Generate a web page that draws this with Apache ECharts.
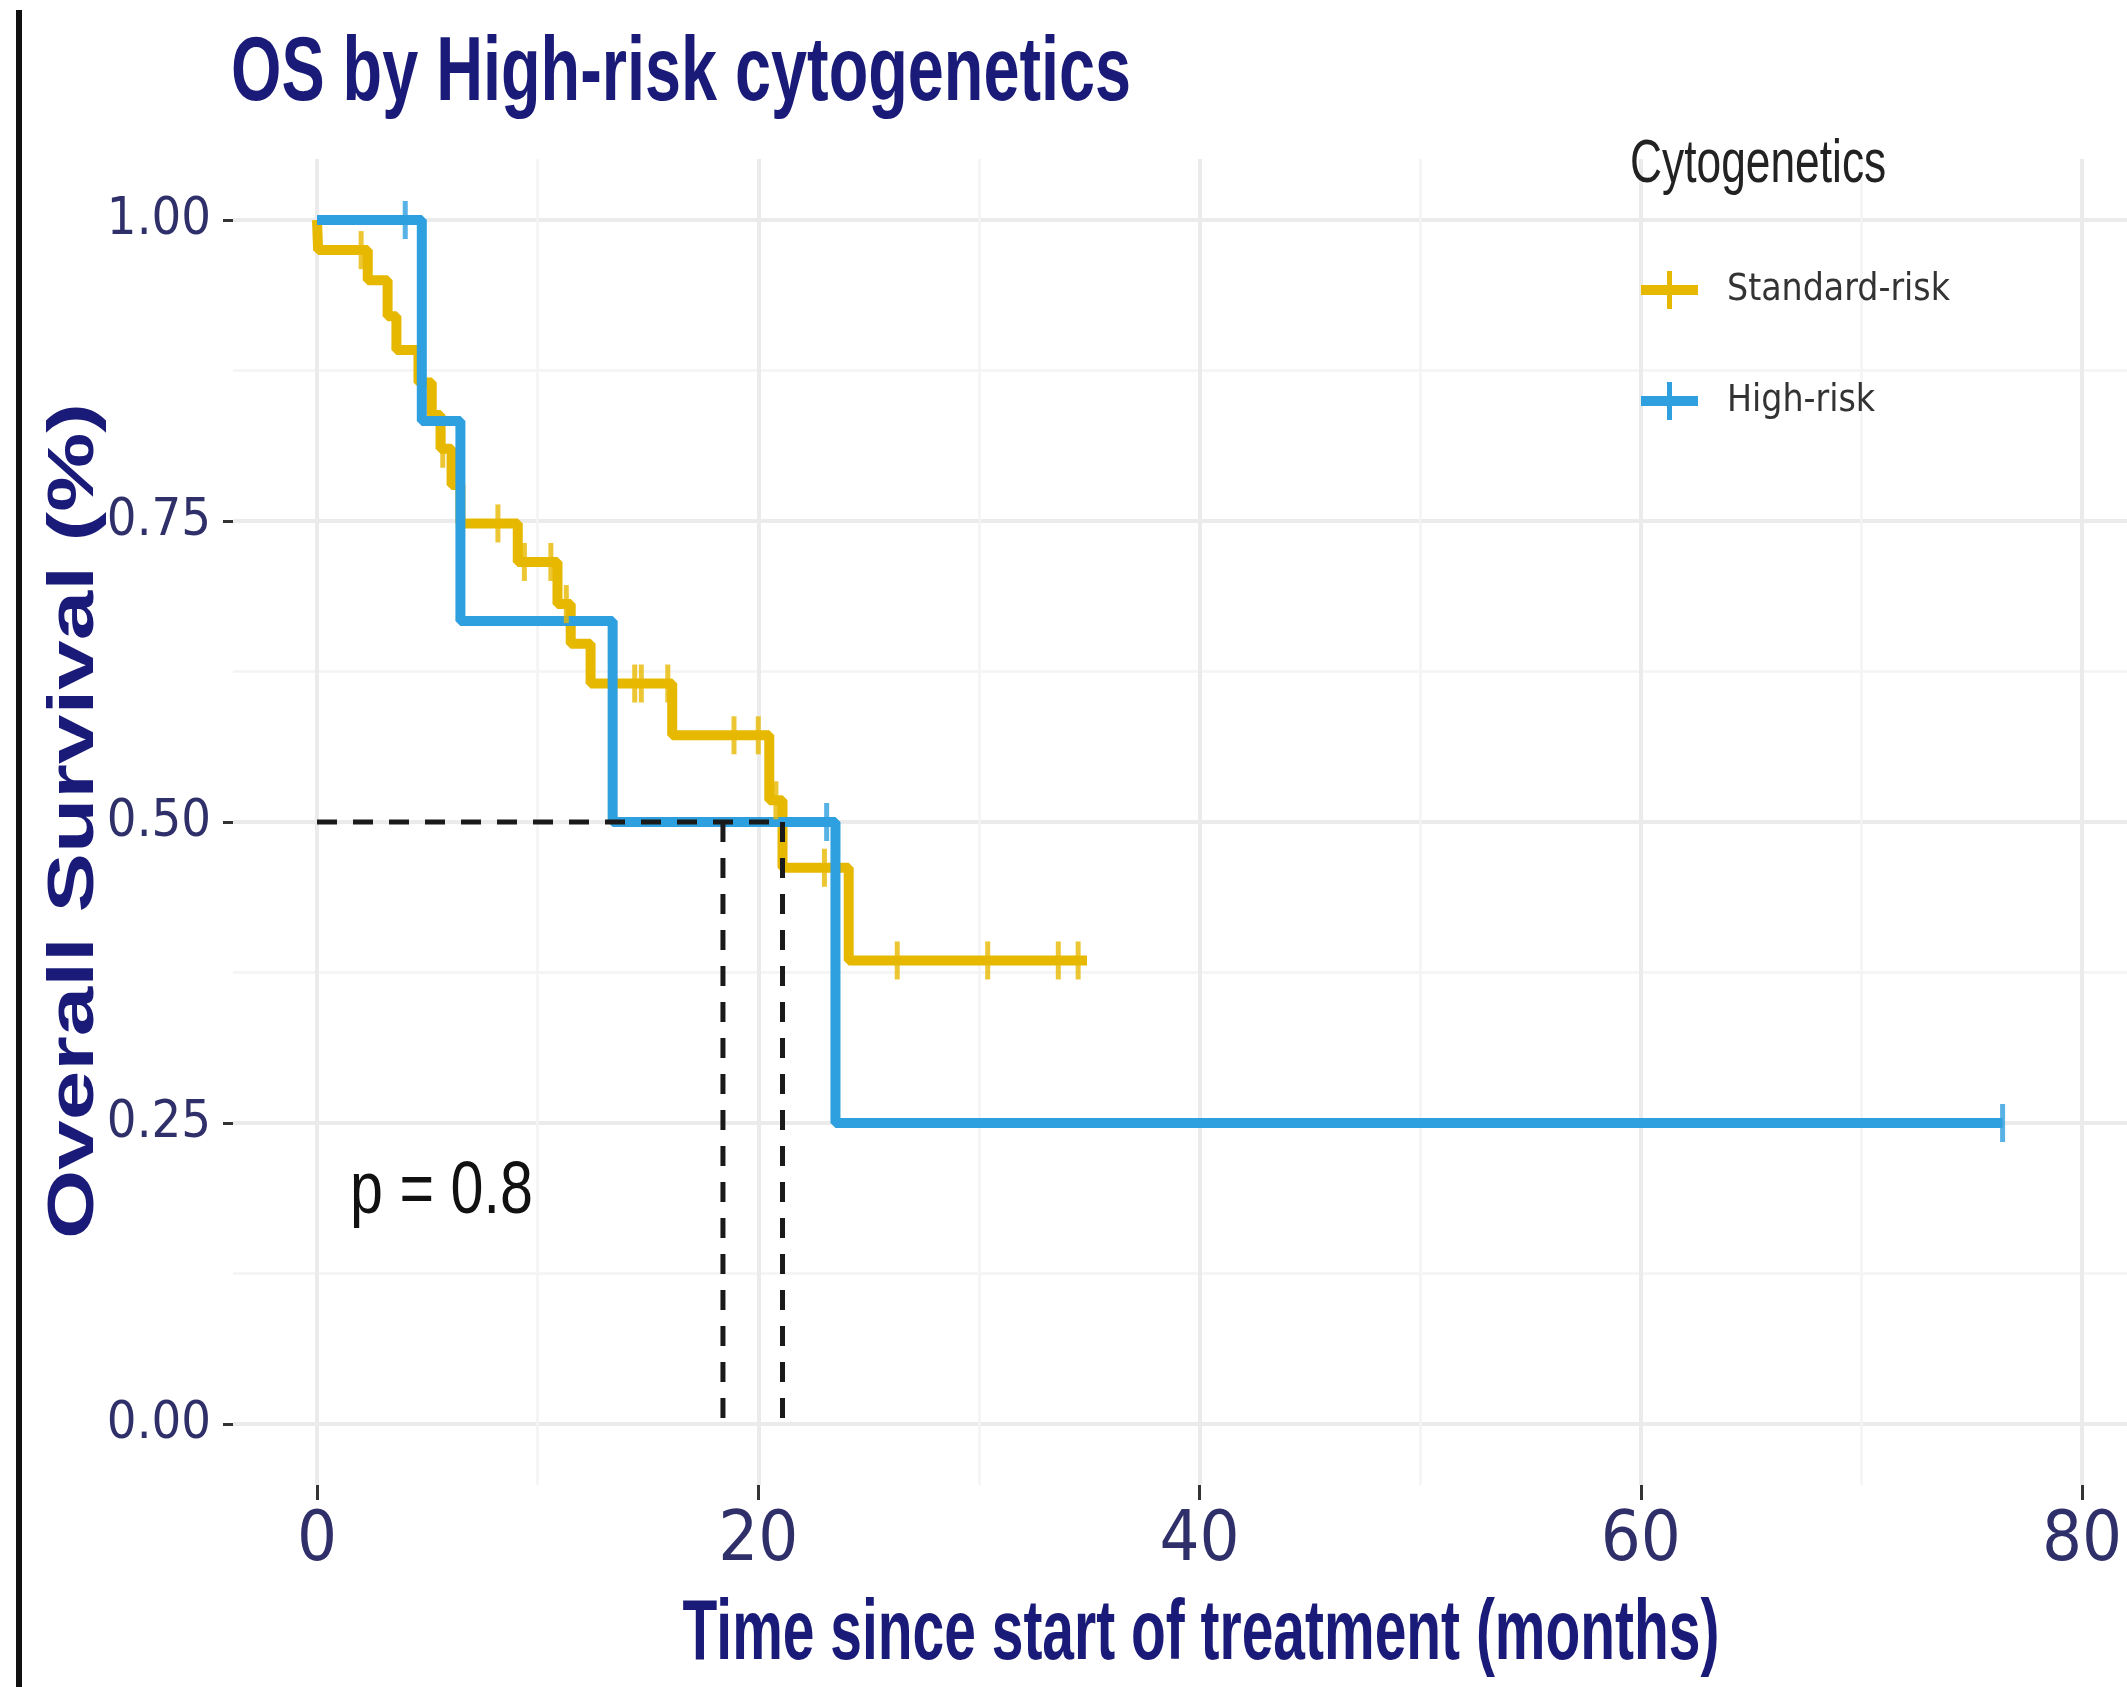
<!DOCTYPE html>
<html><head><meta charset="utf-8">
<script src="https://cdn.jsdelivr.net/npm/echarts@6/dist/echarts.min.js"></script>
<style>html,body{margin:0;padding:0;background:#fff;}#c{width:2127px;height:1687px;}</style>
</head><body><div id="c"></div>
<script>
// ---- data ----
const xTicks = [0, 20, 40, 60, 80];
const yTicks = [0, 0.25, 0.5, 0.75, 1];
const stdTimes = [0, 0.05, 2.3, 3.2, 3.6, 4.6, 5.2, 5.6, 6.1, 6.5, 9.1, 10.9, 11.5, 12.4, 16.1, 20.5, 21.1, 24.1, 34.9];
const stdSurv  = [1, 0.975, 0.95, 0.92, 0.892, 0.865, 0.838, 0.81, 0.78, 0.748, 0.716, 0.681, 0.648, 0.615, 0.572, 0.518, 0.462, 0.385, 0.385];
const stdCensorTimes = [2.0, 5.7, 8.2, 9.4, 10.6, 11.3, 14.4, 14.7, 15.9, 18.9, 20.0, 20.8, 23.0, 26.3, 30.4, 33.6, 34.5];
const stdCensorSurv  = [0.975, 0.81, 0.748, 0.716, 0.716, 0.681, 0.615, 0.615, 0.615, 0.572, 0.572, 0.518, 0.462, 0.385, 0.385, 0.385, 0.385];
const highTimes = [0, 4.75, 6.5, 13.4, 23.5, 76.4];
const highSurv  = [1, 0.833, 0.667, 0.5, 0.25, 0.25];
const highCensorTimes = [4.0, 23.1, 76.4];
const highCensorSurv  = [1, 0.5, 0.25];
const medianTimes = [18.4, 21.1];
const medianLevel = 0.5;
const seriesNames = ['Standard-risk', 'High-risk'];
const titleText = 'OS by High-risk cytogenetics';
const xTitle = 'Time since start of treatment (months)';
const yTitle = 'Overall Survival (%)';
const legendTitle = 'Cytogenetics';
const pValueText = 'p = 0.8';

// ---- styling ----
const GOLD = '#E7B800', BLUE = '#2E9FDF', NAVY = '#1a1a78', TICKC = '#2f2f6a';
const COND = '"DejaVu Sans Condensed", "Liberation Sans Narrow", "Liberation Sans", sans-serif';
const SANS = '"Liberation Sans", Arial, sans-serif';
const zip = (a, b) => a.map((v, i) => [v, b[i]]);

const medianSegments = [[[0, medianLevel], [Math.max(...medianTimes), medianLevel]]]
  .concat(medianTimes.map(t => [[t, medianLevel], [t, 0]]));

const hiddenAxis = (gi, min, max) => ({ gridIndex: gi, type: 'value', min: min, max: max, show: false });

const chart = echarts.init(document.getElementById('c'));
chart.setOption({
  animation: false,
  backgroundColor: '#fff',
  legend: {
    orient: 'vertical', left: 1636, top: 266, itemWidth: 57, itemHeight: 38, itemGap: 73, z: 50,
    data: [
      { name: seriesNames[0], icon: 'path://M0,14h57v10H0z M26,0h5v38h-5z' },
      { name: seriesNames[1], icon: 'path://M0,14h57v10H0z M26,0h5v38h-5z' }
    ],
    textStyle: { fontSize: 37, color: '#333', fontFamily: COND, lineHeight: 38, padding: [0, 0, 0, 24] }
  },
  grid: [
    // data panel: x 0..80, y 0..1
    { left: 317, right: 45, top: 220, bottom: 263, outerBoundsMode: 'none', containLabel: false },
    // horizontal grid lines + y axis (panel left edge)
    { left: 233, right: 0, top: 220, bottom: 263, outerBoundsMode: 'none', containLabel: false },
    // vertical grid lines + x axis (panel bottom edge)
    { left: 317, right: 45, top: 159, bottom: 202, outerBoundsMode: 'none', containLabel: false }
  ],
  xAxis: [
    hiddenAxis(0, xTicks[0], xTicks[xTicks.length - 1]),
    hiddenAxis(1, 0, 1),
    { gridIndex: 2, type: 'value', min: xTicks[0], max: xTicks[xTicks.length - 1], interval: 20,
      axisLine: { show: false },
      axisTick: { show: true, length: 15, lineStyle: { color: '#333', width: 3 } },
      axisLabel: { fontSize: 70, color: TICKC, margin: 22, fontFamily: COND },
      splitLine: { show: true, lineStyle: { color: '#ebebeb', width: 4 } },
      minorTick: { show: false, splitNumber: 2 },
      minorSplitLine: { show: true, lineStyle: { color: '#f4f4f4', width: 2.5 } } }
  ],
  yAxis: [
    hiddenAxis(0, yTicks[0], yTicks[yTicks.length - 1]),
    { gridIndex: 1, type: 'value', min: yTicks[0], max: yTicks[yTicks.length - 1], interval: 0.25,
      axisLine: { show: false },
      axisTick: { show: true, length: 10, lineStyle: { color: '#333', width: 3 } },
      axisLabel: { fontSize: 52, color: TICKC, margin: 22, fontFamily: COND, formatter: v => v.toFixed(2) },
      splitLine: { show: true, lineStyle: { color: '#ebebeb', width: 4 } },
      minorTick: { show: false, splitNumber: 2 },
      minorSplitLine: { show: true, lineStyle: { color: '#f4f4f4', width: 2.5 } } },
    hiddenAxis(2, 0, 1)
  ],
  series: [
    { name: seriesNames[0], type: 'line', step: 'end', xAxisIndex: 0, yAxisIndex: 0,
      data: zip(stdTimes, stdSurv), color: GOLD, symbol: 'none', clip: false, z: 3,
      lineStyle: { color: GOLD, width: 10 } },
    { name: seriesNames[1], type: 'line', step: 'end', xAxisIndex: 0, yAxisIndex: 0,
      data: zip(highTimes, highSurv), color: BLUE, symbol: 'none', clip: false, z: 4,
      lineStyle: { color: BLUE, width: 10 } },
    { name: 'std-censor', type: 'scatter', xAxisIndex: 0, yAxisIndex: 0,
      data: zip(stdCensorTimes, stdCensorSurv), symbol: 'rect', symbolSize: [5, 38], clip: false, z: 5,
      itemStyle: { color: GOLD } },
    { name: 'high-censor', type: 'scatter', xAxisIndex: 0, yAxisIndex: 0,
      data: zip(highCensorTimes, highCensorSurv), symbol: 'rect', symbolSize: [5, 38], clip: false, z: 5,
      itemStyle: { color: BLUE } }
  ].concat(medianSegments.map((seg, i) => ({
      name: 'median-' + i, type: 'line', xAxisIndex: 0, yAxisIndex: 0, data: seg, symbol: 'none', z: 6,
      clip: false, lineStyle: { color: '#1a1a1a', width: 5, type: [20, 16] } }))),
  graphic: [
    { type: 'rect', z: 100, shape: { x: 16, y: 10, width: 6, height: 1677 }, style: { fill: '#111' } },
    { type: 'text', z: 100, x: 231, y: 75, scaleX: 0.712,
      style: { text: titleText, fontSize: 91, fontWeight: 'bold', fill: NAVY, fontFamily: SANS,
               align: 'left', verticalAlign: 'middle' } },
    { type: 'text', z: 100, x: 1630, y: 165, scaleX: 0.715,
      style: { text: legendTitle, fontSize: 62, fill: '#222', fontFamily: SANS,
               align: 'left', verticalAlign: 'middle' } },
    { type: 'text', z: 100, x: 1201, y: 1636, scaleX: 0.67,
      style: { text: xTitle, fontSize: 85, fontWeight: 'bold', fill: NAVY, fontFamily: SANS,
               align: 'center', verticalAlign: 'middle' } },
    { type: 'text', z: 100, x: 75, y: 821, rotation: Math.PI / 2, scaleY: 0.72,
      style: { text: yTitle, fontSize: 89, fontWeight: 'bold', fill: NAVY, fontFamily: SANS,
               align: 'center', verticalAlign: 'middle' } },
    { type: 'text', z: 100, x: 350, y: 1192, scaleX: 0.79,
      style: { text: pValueText, fontSize: 75, fill: '#111', fontFamily: SANS,
               align: 'left', verticalAlign: 'middle' } }
  ]
});
</script></body></html>
